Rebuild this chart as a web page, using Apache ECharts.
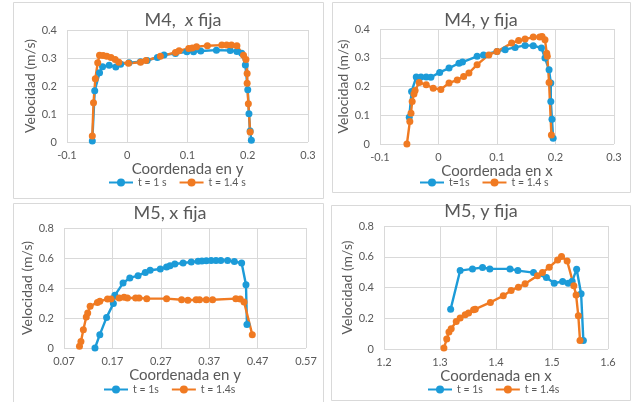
<!DOCTYPE html>
<html>
<head>
<meta charset="utf-8">
<script src="https://cdn.jsdelivr.net/npm/echarts@6/dist/echarts.min.js"></script>
<style>
  html, body { margin: 0; padding: 0; background: #fff; }
  #chart { width: 631px; height: 402px; }
</style>
</head>
<body>
<div id="chart"></div>
<script>
// datos: [coordenada, velocidad]
const m4xT1 = [[-0.058,0.004],[-0.054,0.183],[-0.046,0.247],[-0.041,0.269],[-0.03,0.274],[-0.019,0.268],[-0.011,0.278],[0.003,0.283],[0.022,0.287],[0.033,0.291],[0.05,0.302],[0.061,0.311],[0.08,0.316],[0.099,0.322],[0.11,0.322],[0.122,0.325],[0.148,0.328],[0.171,0.327],[0.182,0.323],[0.19,0.317],[0.196,0.275],[0.2,0.187],[0.202,0.101],[0.204,0.039],[0.206,0.006]];
const m4xT14 = [[-0.058,0.021],[-0.056,0.14],[-0.053,0.226],[-0.049,0.283],[-0.046,0.31],[-0.04,0.309],[-0.034,0.306],[-0.027,0.302],[-0.02,0.295],[-0.014,0.285],[0.002,0.281],[0.022,0.285],[0.031,0.291],[0.055,0.306],[0.08,0.32],[0.086,0.326],[0.102,0.334],[0.108,0.336],[0.115,0.34],[0.133,0.344],[0.157,0.346],[0.165,0.346],[0.173,0.346],[0.182,0.344],[0.193,0.31],[0.197,0.295],[0.199,0.245],[0.199,0.21],[0.201,0.137],[0.204,0.036]];

const m4yT1 = [[-0.05,0.093],[-0.046,0.183],[-0.038,0.233],[-0.03,0.233],[-0.021,0.233],[-0.013,0.232],[0.002,0.249],[0.018,0.264],[0.035,0.281],[0.041,0.285],[0.066,0.305],[0.077,0.31],[0.1,0.322],[0.114,0.328],[0.131,0.336],[0.148,0.343],[0.162,0.342],[0.176,0.334],[0.182,0.299],[0.189,0.258],[0.192,0.212],[0.192,0.148],[0.194,0.086],[0.196,0.02]];
const m4yT14 = [[-0.054,0],[-0.049,0.078],[-0.047,0.107],[-0.045,0.148],[-0.042,0.174],[-0.04,0.186],[-0.033,0.214],[-0.021,0.206],[-0.009,0.194],[0.004,0.19],[0.018,0.212],[0.032,0.223],[0.043,0.235],[0.052,0.247],[0.066,0.276],[0.086,0.31],[0.1,0.322],[0.125,0.351],[0.137,0.36],[0.148,0.365],[0.162,0.372],[0.173,0.372],[0.177,0.374],[0.182,0.363],[0.185,0.316],[0.186,0.305],[0.189,0.214],[0.193,0.031]];

const m5xT1 = [[0.134,0],[0.144,0.089],[0.158,0.204],[0.172,0.296],[0.175,0.351],[0.192,0.433],[0.206,0.467],[0.223,0.482],[0.238,0.504],[0.248,0.518],[0.269,0.527],[0.282,0.54],[0.289,0.549],[0.299,0.56],[0.316,0.567],[0.333,0.573],[0.347,0.578],[0.355,0.58],[0.364,0.582],[0.374,0.584],[0.384,0.584],[0.394,0.584],[0.408,0.584],[0.422,0.576],[0.437,0.567],[0.446,0.422],[0.448,0.156]];
const m5xT14 = [[0.102,0.011],[0.105,0.044],[0.11,0.122],[0.116,0.207],[0.119,0.233],[0.124,0.278],[0.139,0.304],[0.144,0.311],[0.16,0.327],[0.167,0.327],[0.184,0.333],[0.194,0.338],[0.201,0.333],[0.218,0.333],[0.225,0.333],[0.241,0.329],[0.282,0.329],[0.313,0.322],[0.326,0.318],[0.343,0.322],[0.35,0.322],[0.364,0.322],[0.377,0.322],[0.425,0.329],[0.434,0.327],[0.442,0.307],[0.459,0.089]];

const m5yT1 = [[1.319,0.259],[1.336,0.51],[1.358,0.521],[1.376,0.53],[1.389,0.521],[1.425,0.521],[1.439,0.51],[1.467,0.497],[1.49,0.465],[1.504,0.428],[1.519,0.439],[1.529,0.428],[1.536,0.44],[1.544,0.519],[1.552,0.359],[1.556,0.056]];
const m5yT14 = [[1.307,0.006],[1.312,0.065],[1.316,0.11],[1.32,0.132],[1.329,0.179],[1.336,0.201],[1.345,0.223],[1.351,0.234],[1.36,0.255],[1.363,0.259],[1.39,0.303],[1.413,0.346],[1.427,0.381],[1.44,0.402],[1.452,0.424],[1.474,0.476],[1.483,0.497],[1.495,0.532],[1.51,0.579],[1.517,0.601],[1.527,0.573],[1.539,0.411],[1.543,0.352],[1.547,0.216],[1.55,0.056]];

// el primer titulo lleva la x en cursiva
const titles = ['M4,  {i|x} fija', 'M4, y fija', 'M5, x fija', 'M5, y fija'];
const xNames = ['Coordenada en y', 'Coordenada en x', 'Coordenada en y', 'Coordenada en x'];
const legendNames = [['t = 1 s', 't = 1.4 s'], ['t=1s', 't = 1.4 s'], ['t = 1s', 't = 1.4s'], ['t = 1s', 't = 1.4s']];
const xRanges = [[-0.1, 0.3, 0.1], [-0.1, 0.3, 0.1], [0.07, 0.57, 0.1], [1.2, 1.6, 0.1]];
const yRanges = [[0, 0.4, 0.1], [0, 0.4, 0.1], [0, 0.8, 0.2], [0, 0.8, 0.2]];
const seriesData = [[m4xT1, m4xT14], [m4yT1, m4yT14], [m5xT1, m5xT14], [m5yT1, m5yT14]];

const BLUE = '#1c9bd8';
const ORANGE = '#f07a22';
const TXT = '#595959';
const FONT = 'Lato, "Liberation Sans", sans-serif';

// posiciones de cada panel
const grids = [
  { left: 67, top: 30, width: 241, height: 112 },
  { left: 380, top: 29, width: 234, height: 115 },
  { left: 64, top: 228, width: 242, height: 120 },
  { left: 384, top: 226, width: 224, height: 123 }
];
const titlePos = [[183, 11], [481, 11], [170, 204], [481, 202]];
const legendPos = [[108, 177], [419, 177], [103, 384], [427, 384]];
const xNameGap = [15, 15, 17, 16];
const yNameGap = [30, 28, 28, 28];
const boxes = [[13, 2, 310, 196], [332, 2, 298, 190], [13, 203, 310, 199], [331, 205, 299, 195]];

const chart = echarts.init(document.getElementById('chart'));

const option = {
  backgroundColor: '#fff',
  animation: false,
  textStyle: { fontFamily: FONT },
  graphic: boxes.map(b => ({
    type: 'rect', silent: true, z: -10,
    shape: { x: b[0] + 0.5, y: b[1] + 0.5, width: b[2], height: b[3] },
    style: { fill: 'none', stroke: '#d9d9d9', lineWidth: 1 }
  })),
  title: titles.map((t, i) => ({
    text: t, left: titlePos[i][0], top: titlePos[i][1], textAlign: 'center', padding: 0,
    textStyle: {
      fontFamily: FONT, fontSize: 18, fontWeight: 'normal', color: TXT,
      rich: { i: { fontFamily: FONT, fontSize: 18, fontStyle: 'italic', color: TXT } }
    }
  })),
  legend: legendNames.map((names, i) => ({
    data: names, left: legendPos[i][0], top: legendPos[i][1],
    itemWidth: 24, itemHeight: 10, itemGap: 12, padding: 0,
    textStyle: { fontFamily: FONT, fontSize: 10.5, color: TXT }
  })),
  grid: grids,
  xAxis: xRanges.map((r, i) => ({
    type: 'value', gridIndex: i, min: r[0], max: r[1], interval: r[2],
    name: xNames[i], nameLocation: 'middle', nameGap: xNameGap[i],
    nameTextStyle: { fontFamily: FONT, fontSize: 15, color: TXT },
    axisLine: { show: false }, axisTick: { show: false },
    axisLabel: { color: TXT, fontSize: 11, margin: 8, fontFamily: FONT },
    splitLine: { show: true, lineStyle: { color: '#d9d9d9', width: 1 } }
  })),
  yAxis: yRanges.map((r, i) => ({
    type: 'value', gridIndex: i, min: r[0], max: r[1], interval: r[2],
    name: 'Velocidad (m/s)', nameLocation: 'middle', nameGap: yNameGap[i],
    nameTextStyle: { fontFamily: FONT, fontSize: 14, color: TXT },
    axisLine: { show: false }, axisTick: { show: false },
    axisLabel: { color: TXT, fontSize: 11, margin: 10, fontFamily: FONT },
    splitLine: { show: true, lineStyle: { color: '#d9d9d9', width: 1 } }
  })),
  series: []
};

seriesData.forEach((pair, i) => {
  pair.forEach((d, k) => {
    const c = k === 0 ? BLUE : ORANGE;
    option.series.push({
      name: legendNames[i][k], type: 'line', xAxisIndex: i, yAxisIndex: i,
      data: d, symbol: 'circle', symbolSize: 7, showSymbol: true,
      lineStyle: { color: c, width: 2.4 },
      itemStyle: { color: c }
    });
  });
});

chart.setOption(option);
</script>
</body>
</html>
